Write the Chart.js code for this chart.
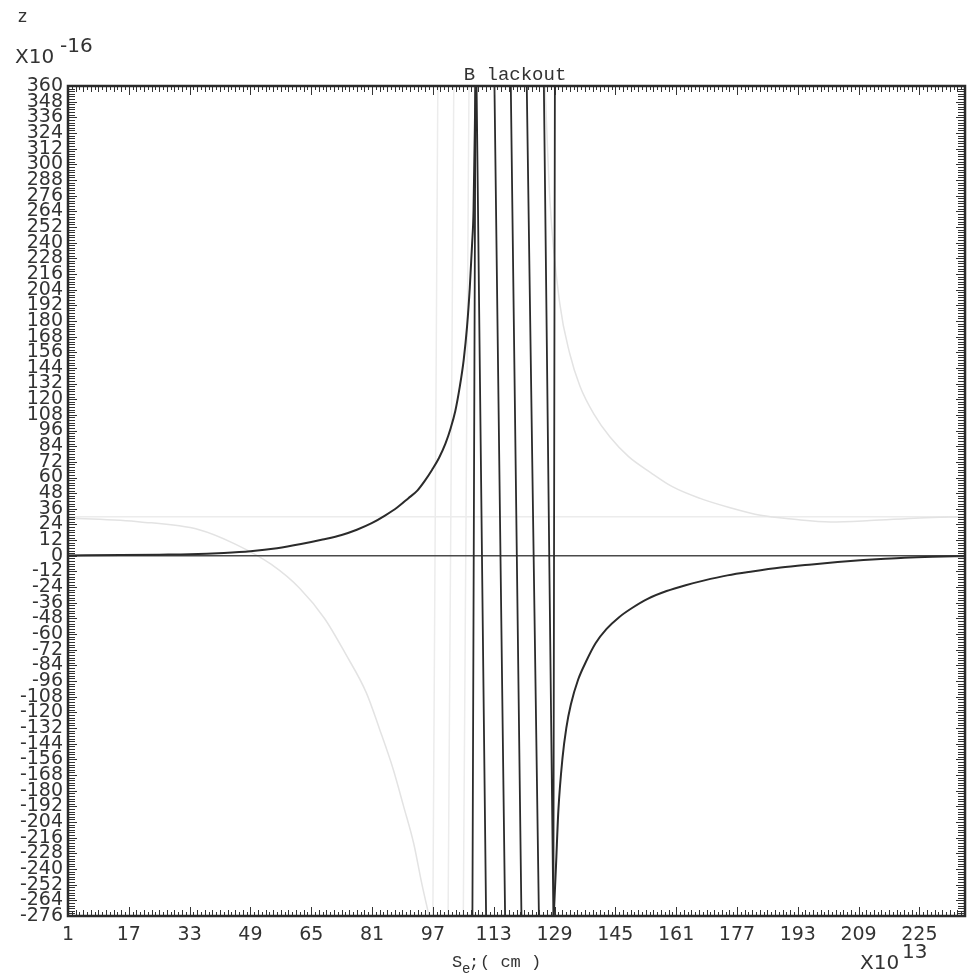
<!DOCTYPE html>
<html><head><meta charset="utf-8">
<script src="https://cdn.jsdelivr.net/npm/chart.js@4"></script>
<style>html,body{margin:0;padding:0;background:#fff;}#wrap{width:970px;height:976px;position:relative;}</style>
</head><body><div id="wrap"><canvas id="c" width="970" height="976"></canvas></div>
<script>
// ---------- data ----------
const xTickLabels = [1,17,33,49,65,81,97,113,129,145,161,177,193,209,225];
const yTickLabels = [360,348,336,324,312,300,288,276,264,252,240,228,216,204,192,180,168,156,144,132,120,108,96,84,72,60,48,36,24,12,0,-12,-24,-36,-48,-60,-72,-84,-96,-108,-120,-132,-144,-156,-168,-180,-192,-204,-216,-228,-240,-252,-264,-276];

// left branch (S_e x10^13, z x10^-16)
const leftX = [1,15,25,33,42,49,56,62.3,68,73,77,80.9,84.5,87.6,90.5,92.9,95,96.8,98.6,100.3,101.7,102.9,104.1,105.1,106,106.7,107.3,107.7,108.2];
const leftZ = [0.3,0.6,0.9,1.2,2.2,3.5,5.8,9,12.5,16,20,25,31,37,44,50,58,66,75,86,98,111,130,150,176,205,238,265,360];

// blackout strokes: each goes from the top (z=360) to the bottom (z=-276)
const strokeTopX    = [108.2,108.5,113.2,117.5,121.7,126.2,129.1];
const strokeBottomX = [107.4,111.0,116.0,120.3,124.9,128.7,128.7];

// right branch
const rightX = [128.8,129.4,130,131.1,132.1,133.3,135.2,137.3,139.8,142.7,146,149.4,153.5,158.5,163.5,168.2,174.5,181,188.5,196.7,203.5,210.3,216,221,228.5,237];
const rightZ = [-276,-237,-196,-155,-132,-114,-95,-81,-67,-56,-47,-40,-33,-27,-22.5,-19,-15,-12,-9,-6.6,-4.8,-3.3,-2.2,-1.4,-0.7,-0.3];

// zero line
const zeroX = [1,237];
const zeroZ = [0,0];

// faint show-through from the reverse page
const ghostLeftX = [1,20,35.5,45,54.5,62,68.5,74,79.5,83,86.5,89.3,92,94,96];
const ghostLeftZ = [29,26,20,9,-6.6,-25,-48,-75,-105,-133,-163,-192,-221,-250,-276];
const ghostRightX = [126.5,127.8,130.4,133,135.7,139.5,143.6,148.5,154.2,160,167.3,175,183.2,192,201.6,212,225,237];
const ghostRightZ = [360,272,193,155,130,108,91,76,64,53,44,37,31,28,26,27,29,30];
const ghostZeroX = [1,237];
const ghostZeroZ = [30,30];
const ghostStrokeTopX = [98.3,102.5,106.5];
const ghostStrokeBottomX = [97,101,105];

const X_MIN = 1, X_MAX = 237, Y_MIN = -276, Y_MAX = 360;

// ---------- build datasets ----------
const pts = (xs, ys) => xs.map((v,i)=>({x:v, y:ys[i]}));
function strokes(tops, bottoms){
  const out=[];
  tops.forEach((t,i)=>{
    out.push({x:t,y:Y_MAX});
    out.push({x:bottoms[i],y:Y_MIN});
    out.push({x:bottoms[i],y:null});
  });
  return out;
}
const INK = '#2b2b2b';
const GHOST = '#e3e3e3';
const datasets = [
  {data:pts(leftX,leftZ), borderColor:INK, borderWidth:2, cubicInterpolationMode:'monotone', order:1},
  {data:strokes(strokeTopX,strokeBottomX), borderColor:INK, borderWidth:1.8, tension:0, spanGaps:false, order:1},
  {data:pts(rightX,rightZ), borderColor:INK, borderWidth:2, cubicInterpolationMode:'monotone', order:1},
  {data:pts(zeroX,zeroZ), borderColor:'#4a4a4a', borderWidth:1.5, order:2},
  {data:pts(ghostLeftX,ghostLeftZ), borderColor:GHOST, borderWidth:1.5, cubicInterpolationMode:'monotone', order:10},
  {data:pts(ghostRightX,ghostRightZ), borderColor:GHOST, borderWidth:1.5, cubicInterpolationMode:'monotone', order:10},
  {data:pts(ghostZeroX,ghostZeroZ), borderColor:'#ececec', borderWidth:1.5, order:11},
  {data:strokes(ghostStrokeTopX,ghostStrokeBottomX), borderColor:'#ececec', borderWidth:1.5, tension:0, spanGaps:false, order:11}
];
datasets.forEach(d=>{d.pointRadius=0; d.pointHoverRadius=0; d.fill=false;});

// ---------- plugins ----------
const framePlugin = {
  id:'frame',
  afterDatasetsDraw(chart){
    const {ctx, chartArea:a, scales:{x,y}} = chart;
    ctx.save();
    ctx.strokeStyle='#333';
    ctx.lineWidth=1;
    ctx.beginPath();
    for(let v=X_MIN; v<=X_MAX; v+=1){
      const px=Math.round(x.getPixelForValue(v))+0.5;
      const len = xTickLabels.includes(v)?9:((v-1)%2===0?6:4);
      ctx.moveTo(px,a.bottom); ctx.lineTo(px,a.bottom-len);
      ctx.moveTo(px,a.top); ctx.lineTo(px,a.top+len);
    }
    for(let v=Y_MIN; v<=Y_MAX; v+=2){
      const py=Math.round(y.getPixelForValue(v))+0.5;
      const len = yTickLabels.includes(v)?9:7;
      ctx.moveTo(a.left,py); ctx.lineTo(a.left+len,py);
      ctx.moveTo(a.right,py); ctx.lineTo(a.right-len,py);
    }
    ctx.stroke();
    ctx.lineWidth=2.5;
    ctx.strokeStyle='#2a2a2a';
    ctx.strokeRect(a.left,a.top,a.right-a.left,a.bottom-a.top);
    ctx.restore();
  }
};
const textPlugin = {
  id:'texts',
  afterDraw(chart){
    const ctx=chart.ctx;
    ctx.save();
    ctx.fillStyle='#333';
    ctx.textBaseline='alphabetic';
    ctx.textAlign='left';
    ctx.font='17px "DejaVu Sans"';
    ctx.fillText('z',18,22);
    ctx.font='20px "DejaVu Sans"';
    ctx.fillText('X10',15,63);
    ctx.fillText('-16',60,52);
    // bottom-right multiplier
    ctx.fillText('X10',860,969);
    ctx.fillText('13',902,958);
    // title
    ctx.font='19px "Liberation Mono"';
    ctx.textAlign='center';
    ctx.fillText('B lackout',515,80);
    // x axis title
    ctx.textAlign='left';
    ctx.font='17px "Liberation Mono"';
    ctx.fillText('S',452,967);
    ctx.font='14px "Liberation Mono"';
    ctx.fillText('e',462,973);
    ctx.font='17px "Liberation Mono"';
    ctx.fillText(';',469,967);
    ctx.fillText('( cm )',480,967);
    ctx.restore();
  }
};

const tickFont = {family:'"DejaVu Sans"', size:19};
new Chart(document.getElementById('c'),{
  type:'line',
  data:{datasets},
  options:{
    responsive:false,
    animation:false,
    devicePixelRatio:1,
    layout:{padding:{top:86,right:5,left:0,bottom:0}},
    plugins:{legend:{display:false},tooltip:{enabled:false},title:{display:false}},
    scales:{
      x:{
        type:'linear', min:X_MIN, max:X_MAX,
        afterBuildTicks:s=>{s.ticks=xTickLabels.map(v=>({value:v}));},
        afterFit:s=>{s.height=60;},
        grid:{display:false, drawTicks:false}, border:{display:false},
        ticks:{autoSkip:false, maxRotation:0, padding:8, color:'#333', font:tickFont, callback:v=>String(v)}
      },
      y:{
        type:'linear', min:Y_MIN, max:Y_MAX,
        afterBuildTicks:s=>{s.ticks=yTickLabels.map(v=>({value:v}));},
        afterFit:s=>{s.width=68;},
        grid:{display:false, drawTicks:false}, border:{display:false},
        ticks:{autoSkip:false, padding:5, color:'#333', font:tickFont, callback:v=>String(v)}
      }
    }
  },
  plugins:[framePlugin,textPlugin]
});
</script></body></html>
